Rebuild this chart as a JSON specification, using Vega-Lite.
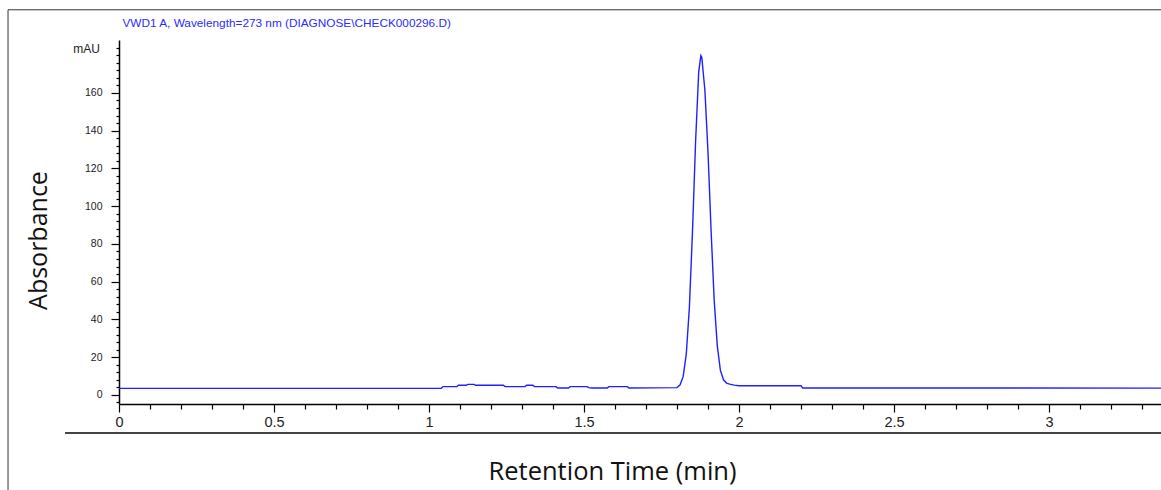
{
  "$schema": "https://vega.github.io/schema/vega-lite/v6.json",
  "width": 1042,
  "height": 364,
  "autosize": "none",
  "padding": {"left": 119, "top": 40, "right": 0, "bottom": 86},
  "background": "white",
  "config": {"view": {"stroke": null}},
  "datasets": {
    "trace": [
      {"time": 0, "mAU": 3.5},
      {"time": 1.04, "mAU": 3.5},
      {"time": 1.045, "mAU": 4.4},
      {"time": 1.09, "mAU": 4.4},
      {"time": 1.095, "mAU": 5.1},
      {"time": 1.12, "mAU": 5.1},
      {"time": 1.125, "mAU": 5.6},
      {"time": 1.145, "mAU": 5.6},
      {"time": 1.15, "mAU": 5.1},
      {"time": 1.24, "mAU": 5.1},
      {"time": 1.245, "mAU": 4.4},
      {"time": 1.31, "mAU": 4.4},
      {"time": 1.315, "mAU": 5.1},
      {"time": 1.335, "mAU": 5.1},
      {"time": 1.34, "mAU": 4.4},
      {"time": 1.41, "mAU": 4.4},
      {"time": 1.415, "mAU": 3.7},
      {"time": 1.45, "mAU": 3.7},
      {"time": 1.455, "mAU": 4.4},
      {"time": 1.51, "mAU": 4.4},
      {"time": 1.515, "mAU": 3.9},
      {"time": 1.525, "mAU": 3.7},
      {"time": 1.575, "mAU": 3.7},
      {"time": 1.58, "mAU": 4.4},
      {"time": 1.64, "mAU": 4.4},
      {"time": 1.645, "mAU": 3.7},
      {"time": 1.8, "mAU": 3.9},
      {"time": 1.81, "mAU": 5.4},
      {"time": 1.82, "mAU": 9.8},
      {"time": 1.83, "mAU": 21.7},
      {"time": 1.84, "mAU": 46.5},
      {"time": 1.85, "mAU": 86.6},
      {"time": 1.86, "mAU": 134.2},
      {"time": 1.87, "mAU": 171.0},
      {"time": 1.877, "mAU": 179.7},
      {"time": 1.88, "mAU": 178.7},
      {"time": 1.89, "mAU": 161.4},
      {"time": 1.9, "mAU": 128.7},
      {"time": 1.91, "mAU": 87.0},
      {"time": 1.92, "mAU": 50.0},
      {"time": 1.93, "mAU": 26.0},
      {"time": 1.94, "mAU": 13.0},
      {"time": 1.95, "mAU": 8.0},
      {"time": 1.96, "mAU": 6.3},
      {"time": 1.97, "mAU": 5.7},
      {"time": 1.985, "mAU": 5.2},
      {"time": 2.0, "mAU": 4.9},
      {"time": 2.2, "mAU": 4.9},
      {"time": 2.205, "mAU": 3.7},
      {"time": 3.4, "mAU": 3.6}
    ]
  },
  "layer": [
    {
      "data": {"name": "trace"},
      "mark": {"type": "line", "color": "#2020ff", "strokeWidth": 1.4, "clip": true},
      "encoding": {
        "x": {
          "field": "time",
          "type": "quantitative",
          "scale": {"domain": [0, 3.3613], "nice": false, "zero": false},
          "axis": {
            "orient": "bottom",
            "title": "Retention Time (min)",
            "values": [0, 0.1, 0.2, 0.3, 0.4, 0.5, 0.6, 0.7, 0.8, 0.9, 1, 1.1, 1.2, 1.3, 1.4, 1.5, 1.6, 1.7, 1.8, 1.9, 2, 2.1, 2.2, 2.3, 2.4, 2.5, 2.6, 2.7, 2.8, 2.9, 3, 3.1, 3.2, 3.3],
            "labelExpr": "abs(datum.value*2-round(datum.value*2))<0.001 ? format(datum.value,'~g') : ''",
            "labelOverlap": false,
            "labelFlush": false,
            "labelBound": false,
            "grid": false,
            "domainColor": "#000",
            "domainWidth": 1.5,
            "tickColor": "#000",
            "tickWidth": 1.2,
            "tickSize": {"condition": {"test": "abs(datum.value*2-round(datum.value*2))<0.001", "value": 8}, "value": 5},
            "labelFont": "Liberation Sans, Arial, sans-serif",
            "labelFontSize": 14.5,
            "labelColor": "#222",
            "labelPadding": 3,
            "titleFont": "Open Sans",
            "titleFontSize": 25.5,
            "titleFontWeight": "normal",
            "titleColor": "#111",
            "titleX": 493,
            "titleY": 75,
            "titleAlign": "center",
            "titleBaseline": "alphabetic"
          }
        },
        "y": {
          "field": "mAU",
          "type": "quantitative",
          "scale": {"domain": [-4.8, 188], "nice": false, "zero": false},
          "axis": {
            "orient": "left",
            "title": "Absorbance",
            "values": [-4, 0, 4, 8, 12, 16, 20, 24, 28, 32, 36, 40, 44, 48, 52, 56, 60, 64, 68, 72, 76, 80, 84, 88, 92, 96, 100, 104, 108, 112, 116, 120, 124, 128, 132, 136, 140, 144, 148, 152, 156, 160, 164, 168, 172, 176, 180, 184],
            "labelExpr": "(datum.value%20==0 && datum.value>=0 && datum.value<=160) ? format(datum.value,'d') : ''",
            "labelOverlap": false,
            "labelFlush": false,
            "labelBound": false,
            "grid": false,
            "domainColor": "#000",
            "domainWidth": 1.5,
            "tickColor": "#000",
            "tickWidth": 1.2,
            "tickSize": {"condition": {"test": "datum.value%20==0 && datum.value>=0 && datum.value<=160", "value": 8}, "value": 3},
            "labelFont": "Liberation Sans, Arial, sans-serif",
            "labelFontSize": 10.5,
            "labelColor": "#222",
            "labelPadding": 9,
            "titleFont": "Open Sans",
            "titleFontSize": 25,
            "titleFontWeight": "normal",
            "titleColor": "#111",
            "titleAngle": 270,
            "titleX": -73,
            "titleY": 200,
            "titleAlign": "center",
            "titleBaseline": "alphabetic"
          }
        }
      }
    },
    {
      "data": {"values": [{}]},
      "mark": {"type": "text", "align": "right", "baseline": "alphabetic", "font": "Liberation Sans, Arial, sans-serif", "fontSize": 12, "color": "#222"},
      "encoding": {
        "x": {"datum": -0.0613, "type": "quantitative", "scale": {"domain": [0, 3.3613], "nice": false, "zero": false}, "axis": null},
        "y": {"datum": 181.2, "type": "quantitative", "scale": {"domain": [-4.8, 188], "nice": false, "zero": false}, "axis": null},
        "text": {"value": "mAU"}
      }
    },
    {
      "data": {"values": [{}]},
      "mark": {"type": "rule", "color": "#333", "strokeWidth": 1},
      "encoding": {
        "x": {
          "datum": -0.358,
          "type": "quantitative",
          "scale": {"domain": [0, 3.3613], "nice": false, "zero": false},
          "axis": {
            "orient": "top",
            "title": "VWD1 A, Wavelength=273 nm (DIAGNOSE\\CHECK000296.D)",
            "domain": false,
            "ticks": false,
            "labels": false,
            "grid": false,
            "titleFont": "Liberation Sans, Arial, sans-serif",
            "titleFontSize": 11.8,
            "titleFontWeight": "normal",
            "titleColor": "#2b2bff",
            "titleX": 3,
            "titleY": -14,
            "titleAlign": "left",
            "titleBaseline": "alphabetic",
            "titleAngle": 0
          }
        },
        "x2": {"datum": 3.4},
        "y": {"datum": 204, "type": "quantitative", "scale": {"domain": [-4.8, 188], "nice": false, "zero": false}, "axis": null}
      }
    },
    {
      "data": {"values": [{}]},
      "mark": {"type": "rule", "color": "#333", "strokeWidth": 1},
      "encoding": {
        "x": {"datum": -0.358, "type": "quantitative", "scale": {"domain": [0, 3.3613], "nice": false, "zero": false}, "axis": null},
        "y": {"datum": 204, "type": "quantitative", "scale": {"domain": [-4.8, 188], "nice": false, "zero": false}, "axis": null},
        "y2": {"datum": -52}
      }
    },
    {
      "data": {"values": [{}]},
      "mark": {"type": "rule", "color": "#444", "strokeWidth": 2},
      "encoding": {
        "x": {"datum": -0.174, "type": "quantitative", "scale": {"domain": [0, 3.3613], "nice": false, "zero": false}, "axis": null},
        "x2": {"datum": 3.4},
        "y": {"datum": -20.1, "type": "quantitative", "scale": {"domain": [-4.8, 188], "nice": false, "zero": false}, "axis": null}
      }
    }
  ],
  "resolve": {"axis": {"x": "independent", "y": "independent"}}
}
